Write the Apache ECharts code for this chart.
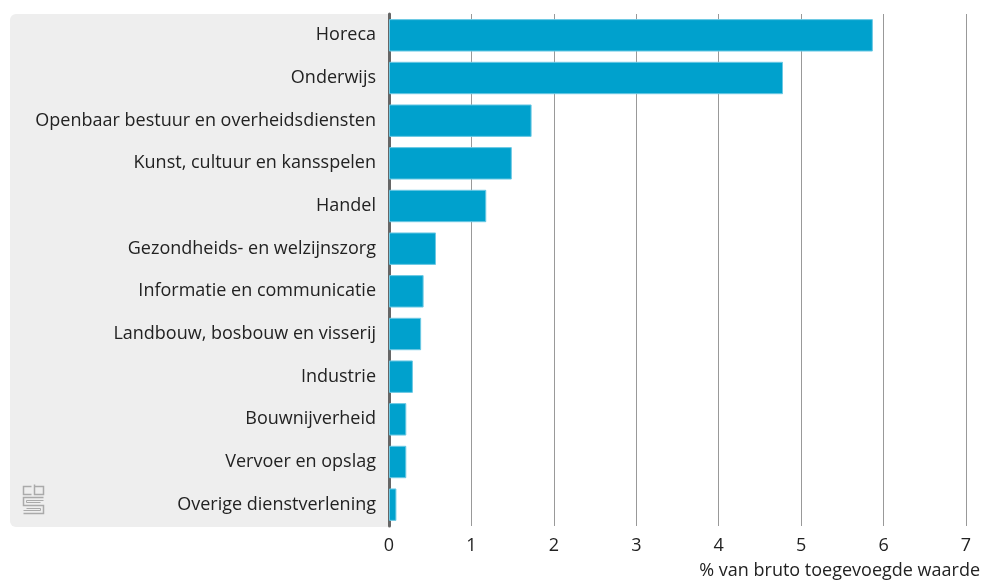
<!DOCTYPE html>
<html>
<head>
<meta charset="utf-8">
<script src="https://cdn.jsdelivr.net/npm/echarts@6/dist/echarts.min.js"></script>
<style>
  html, body { margin: 0; padding: 0; background: #fff; }
  #chart { width: 987px; height: 582px; }
</style>
</head>
<body>
<div id="chart"></div>
<script>
// categorieen (van boven naar beneden)
const categories = [
  'Horeca',
  'Onderwijs',
  'Openbaar bestuur en overheidsdiensten',
  'Kunst, cultuur en kansspelen',
  'Handel',
  'Gezondheids- en welzijnszorg',
  'Informatie en communicatie',
  'Landbouw, bosbouw en visserij',
  'Industrie',
  'Bouwnijverheid',
  'Vervoer en opslag',
  'Overige dienstverlening'
]
// % van bruto toegevoegde waarde
const values = [5.87, 4.78, 1.73, 1.49, 1.18, 0.57, 0.42, 0.39, 0.29, 0.21, 0.21, 0.09]
const axisTitle = '% van bruto toegevoegde waarde'

const font = 'Open Sans'
const myChart = echarts.init(document.getElementById('chart'))
myChart.setOption({
  animation: false,
  textStyle: { fontFamily: font },
  title: {
    text: axisTitle,
    right: 2,
    bottom: -3,
    textStyle: { fontFamily: font, fontSize: 18, fontWeight: 'normal', color: '#222' }
  },
  grid: {
    left: 389,
    right: 21,
    top: 14,
    bottom: 56,
    containLabel: false
  },
  graphic: [
    {
      type: 'rect',
      z: -10,
      shape: { x: 10, y: 14, width: 380, height: 513, r: [6, 0, 0, 6] },
      style: { fill: '#eeeeee' }
    },
    // cbs logo
    {
      type: 'group',
      left: 21,
      top: 482,
      z: 10,
      children: [
        { type: 'polyline', shape: { points: [[8, 2], [0, 2], [0, 10], [8, 10]] }, style: { stroke: '#aaa', lineWidth: 1.5, fill: null } },
        { type: 'polyline', shape: { points: [[11, 0], [11, 10], [20, 10], [20, 2], [11, 2]] }, style: { stroke: '#aaa', lineWidth: 1.5, fill: null } },
        { type: 'polyline', shape: { points: [[20, 13], [0, 13], [0, 21], [20, 21], [20, 29], [0, 29]] }, style: { stroke: '#aaa', lineWidth: 1.5, fill: null } },
        { type: 'polyline', shape: { points: [[20, 16], [3, 16], [3, 18], [17, 18]] }, style: { stroke: '#aaa', lineWidth: 1, fill: null } },
        { type: 'polyline', shape: { points: [[0, 26], [17, 26], [17, 24], [3, 24]] }, style: { stroke: '#aaa', lineWidth: 1, fill: null } }
      ]
    }
  ],
  xAxis: {
    type: 'value',
    min: 0,
    max: 7,
    interval: 1,
    axisLine: { show: false },
    axisTick: { show: false },
    axisLabel: { color: '#222', fontSize: 18, margin: 11 },
    splitLine: { lineStyle: { color: '#999', width: 1 } }
  },
  yAxis: {
    type: 'category',
    inverse: true,
    data: categories,
    axisTick: { show: false },
    axisLine: { lineStyle: { color: '#666', width: 3 } },
    axisLabel: { color: '#222', fontSize: 18, margin: 13 }
  },
  series: [
    {
      type: 'bar',
      data: values,
      barWidth: '76%',
      itemStyle: { color: '#00a1cd', borderColor: '#6cc9e4', borderWidth: 1 }
    }
  ]
})
window.addEventListener('resize', function() {
  myChart.resize()
})
</script>
</body>
</html>
